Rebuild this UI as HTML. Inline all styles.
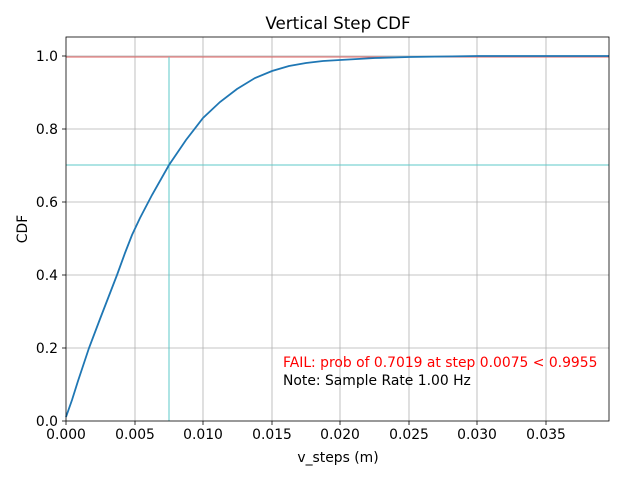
<!DOCTYPE html>
<html><head><style>
body{margin:0;background:#fff;}
svg text{font-family:"DejaVu Sans","Liberation Sans",sans-serif;}
</style></head><body>
<svg width="640" height="480" xmlns="http://www.w3.org/2000/svg">
<rect width="640" height="480" fill="#fff"/>
<g stroke="#b0b0b0" stroke-width="0.8">
<line x1="135" y1="37" x2="135" y2="421"/><line x1="203" y1="37" x2="203" y2="421"/>
<line x1="272" y1="37" x2="272" y2="421"/><line x1="340" y1="37" x2="340" y2="421"/>
<line x1="409" y1="37" x2="409" y2="421"/><line x1="477" y1="37" x2="477" y2="421"/>
<line x1="546" y1="37" x2="546" y2="421"/>
<line x1="66" y1="348" x2="609" y2="348"/><line x1="66" y1="275" x2="609" y2="275"/>
<line x1="66" y1="202" x2="609" y2="202"/><line x1="66" y1="129" x2="609" y2="129"/>
<line x1="66" y1="56" x2="609" y2="56"/>
</g>
<line x1="66" y1="57" x2="609" y2="57" stroke="#e06060" stroke-width="1"/>
<line x1="169" y1="57" x2="169" y2="421" stroke="#5cc8c8" stroke-width="1"/>
<line x1="66" y1="165" x2="609" y2="165" stroke="#5cc8c8" stroke-width="1"/>
<polyline fill="none" stroke="#1f77b4" stroke-width="1.8" points="66,417 72,400 78,381 83,366 89,348 100,319 117,275 125,253 132,235 140,218 152,195 169,165 186,140 203,118 220,102 237,89 255,78 272,71 289,66 306,63 323,61 340,60 375,58 409,57 478,56 609,56"/>
<rect x="66" y="37" width="543" height="384" fill="none" stroke="#000" stroke-width="0.8"/>
<g stroke="#000" stroke-width="0.8">
<line x1="66" y1="421" x2="66" y2="425"/><line x1="135" y1="421" x2="135" y2="425"/><line x1="203" y1="421" x2="203" y2="425"/><line x1="272" y1="421" x2="272" y2="425"/><line x1="340" y1="421" x2="340" y2="425"/><line x1="409" y1="421" x2="409" y2="425"/><line x1="477" y1="421" x2="477" y2="425"/><line x1="546" y1="421" x2="546" y2="425"/>
<line x1="62" y1="421" x2="66" y2="421"/><line x1="62" y1="348" x2="66" y2="348"/><line x1="62" y1="275" x2="66" y2="275"/><line x1="62" y1="202" x2="66" y2="202"/><line x1="62" y1="129" x2="66" y2="129"/><line x1="62" y1="56" x2="66" y2="56"/>
</g>
<g font-size="13.9" text-anchor="middle" fill="#000">
<text x="66" y="439">0.000</text><text x="135" y="439">0.005</text><text x="203" y="439">0.010</text><text x="272" y="439">0.015</text><text x="340" y="439">0.020</text><text x="409" y="439">0.025</text><text x="477" y="439">0.030</text><text x="546" y="439">0.035</text>
</g>
<g font-size="13.9" text-anchor="end" fill="#000">
<text x="58" y="426">0.0</text><text x="58" y="353">0.2</text><text x="58" y="280">0.4</text><text x="58" y="207">0.6</text><text x="58" y="134">0.8</text><text x="58" y="61">1.0</text>
</g>
<text x="338" y="29" font-size="16.7" text-anchor="middle">Vertical Step CDF</text>
<text x="338" y="462" font-size="13.9" text-anchor="middle">v_steps (m)</text>
<text transform="translate(27,229) rotate(-90)" font-size="13.9" text-anchor="middle">CDF</text>
<text x="283" y="367" font-size="13.9" fill="#ff0000">FAIL: prob of 0.7019 at step 0.0075 &lt; 0.9955</text>
<text x="283" y="385" font-size="13.9" fill="#000">Note: Sample Rate 1.00 Hz</text>
</svg>
</body></html>
